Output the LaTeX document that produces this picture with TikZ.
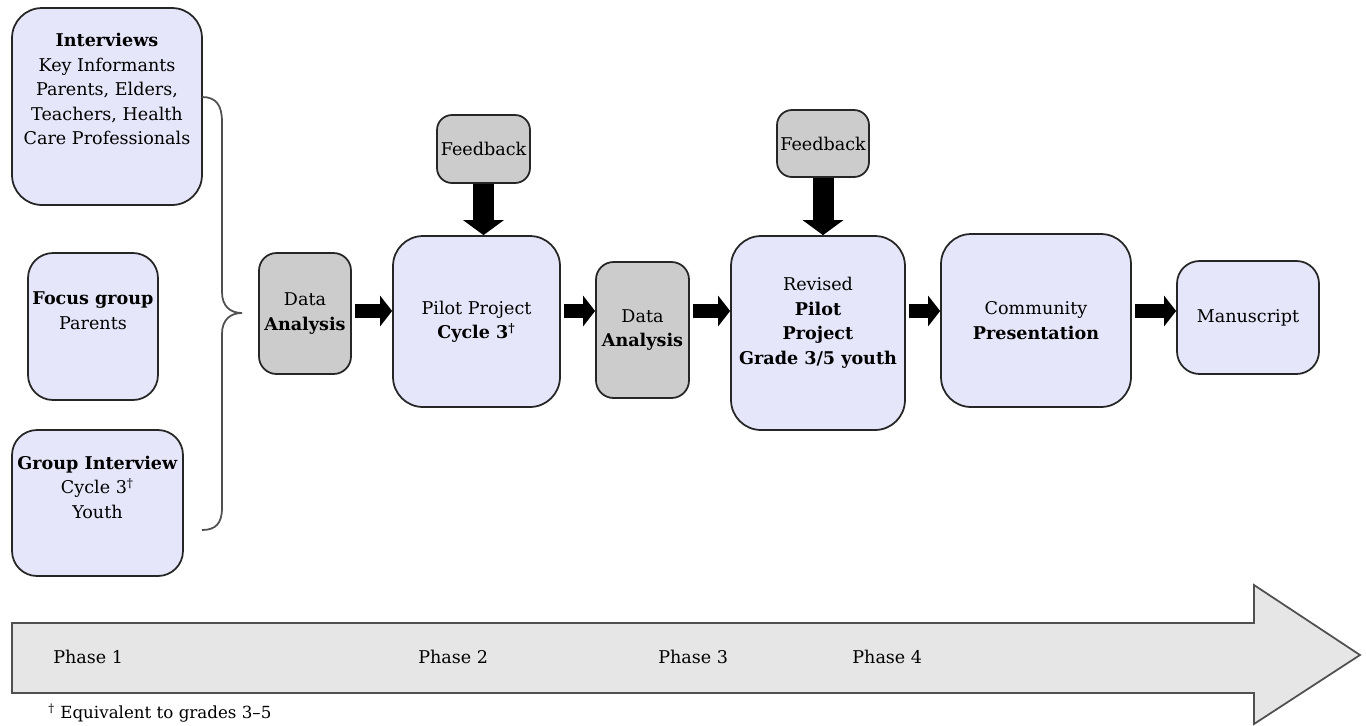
\documentclass[tikz,border=0pt]{standalone}
\usepackage{fontspec}
\setmainfont{DejaVu Serif}
\usetikzlibrary{arrows.meta}
\definecolor{lavender}{RGB}{230,230,250}
\definecolor{boxgray}{RGB}{204,204,204}
\definecolor{bandgray}{RGB}{230,230,230}
\definecolor{edgegray}{RGB}{80,80,80}

\begin{document}
\begin{tikzpicture}[x=0.02cm,y=-0.02cm,
	every node/.style={font=\fontsize{10}{13.9}\selectfont},
	stage/.style={draw=black!85,fill=lavender,line width=1pt,rounded corners=0.5cm,align=center,inner sep=1pt},
	review/.style={stage,fill=boxgray,rounded corners=0.35cm},
	flowarrow/.style={line width=0.28cm,-{Triangle[length=0.24cm,width=0.6cm]},shorten <=2pt},
	feedarrow/.style={line width=0.42cm,-{Triangle[length=0.3cm,width=0.8cm]}}]
	\useasboundingbox (0,0) rectangle (1366,725);

	% phase band
	\draw[fill=bandgray,draw=edgegray,line width=1pt] (12,623) -- (1254,623) -- (1254,585) -- (1360,655) -- (1254,724) -- (1254,693) -- (12,693) -- cycle;
	\foreach \x/\p in {53/1,418/2,658/3,852/4}
		\node[anchor=west,inner sep=0pt] (phase\p) at (\x,657) {Phase \p};
	\node[anchor=west,inner sep=0pt,font=\fontsize{9.5}{12}\selectfont] (note) at (48,713) {\textsuperscript{\textdagger} Equivalent to grades 3--5};

	% phase 1
	\node[stage,rounded corners=0.6cm,minimum width=3.8cm,minimum height=3.94cm] (interv) at (107,106.5)
		{\textbf{Interviews}\\Key Informants\\Parents, Elders,\\Teachers, Health\\Care Professionals\\[6pt]\mbox{}};
	\node[stage,minimum width=2.6cm,minimum height=2.94cm] (focus) at (93,326.5)
		{\textbf{Focus group}\\Parents\\[4pt]\mbox{}};
	\node[stage,minimum width=3.42cm,minimum height=2.92cm] (grpint) at (97.5,503)
		{\textbf{Group Interview}\\Cycle 3\textsuperscript{\textdagger}\\Youth\\[4pt]\mbox{}};
	\draw[edgegray,line width=1pt] (202,97) .. controls (216,97) and (222,105) .. (222,122) -- (222,292)
		.. controls (222,306) and (230,313) .. (242,313) .. controls (230,313) and (222,320) .. (222,334)
		-- (222,508) .. controls (222,523) and (216,530) .. (202,530);

	% phases 2 to 4
	\node[review,minimum width=1.84cm,minimum height=2.42cm] (da1) at (305,313.5) {Data\\\textbf{Analysis}};
	\node[stage,rounded corners=0.6cm,minimum width=3.34cm,minimum height=3.42cm] (pilot) at (476.5,321.5)
		{Pilot Project\\\textbf{Cycle 3\textsuperscript{\textdagger}}};
	\node[review,rounded corners=0.3cm,minimum width=1.86cm,minimum height=1.36cm] (fb1) at (483.5,149) {Feedback};
	\node[review,minimum width=1.86cm,minimum height=2.72cm] (da2) at (642.5,330) {Data\\\textbf{Analysis}};
	\node[stage,rounded corners=0.6cm,minimum width=3.48cm,minimum height=3.88cm] (revised) at (818,333)
		{Revised\\\textbf{Pilot}\\\textbf{Project}\\\textbf{Grade 3/5 youth}\\\mbox{}};
	\node[review,rounded corners=0.3cm,minimum width=1.84cm,minimum height=1.34cm] (fb2) at (823,143.5) {Feedback};
	\node[stage,rounded corners=0.6cm,minimum width=3.8cm,minimum height=3.46cm] (commu) at (1036,320.5)
		{Community\\\textbf{Presentation}};
	\node[stage,rounded corners=0.45cm,minimum width=2.84cm,minimum height=2.26cm] (manus) at (1248,317.5) {Manuscript};

	% arrows
	\foreach \a/\b in {da1/pilot,pilot/da2,da2/revised,revised/commu,commu/manus}
		\draw[flowarrow] (\a.east |- 0,311) -- (\b.west |- 0,311);
	\draw[feedarrow] (fb1) -- (fb1 |- pilot.north);
	\draw[feedarrow] (fb2) -- (fb2 |- revised.north);
\end{tikzpicture}
\end{document}
